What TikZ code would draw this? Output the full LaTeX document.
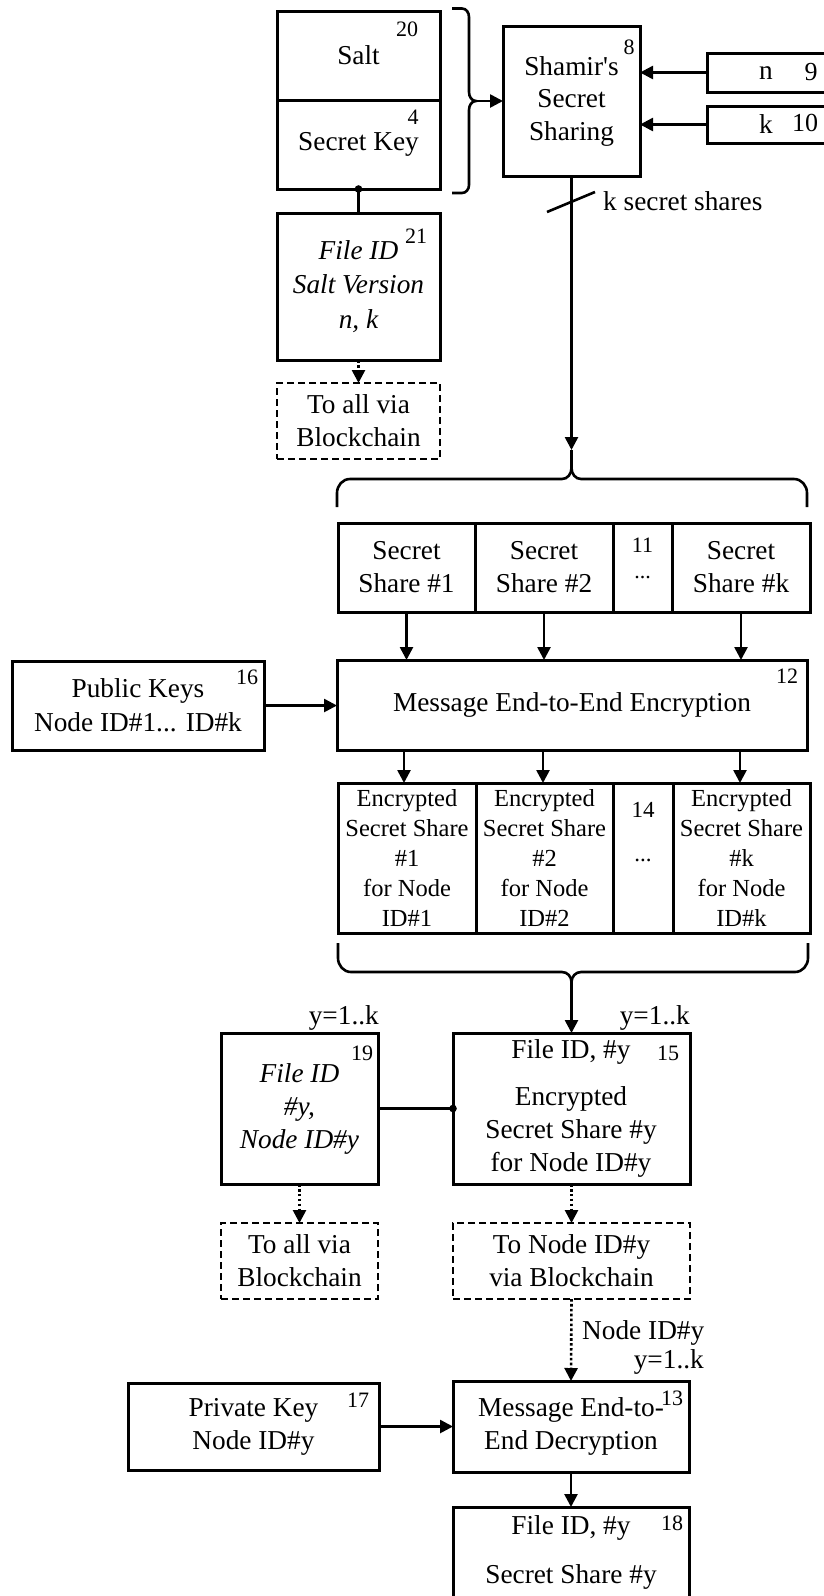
\documentclass[tikz,border=0pt]{standalone}
\usepackage{fontspec}
\setmainfont{Liberation Serif}[Ligatures=TeXOff]
\usetikzlibrary{arrows.meta,calc}
\newcommand\mainfs{\fontsize{27.3}{33}\selectfont}
\newcommand\itfs{\fontsize{27.3}{34.5}\selectfont\itshape}
\newcommand\shfs{\fontsize{27.3}{32.5}\selectfont}
\newcommand\encfs{\fontsize{24.5}{30}\selectfont}
\newcommand\numfs{\fontsize{22}{24}\selectfont}
\newcommand\nkfs{\fontsize{26}{28}\selectfont}
\begin{document}
\begin{tikzpicture}[x=1pt,y=-1pt,
  box/.style={draw, line width=3pt, inner sep=0pt, outer sep=0pt, align=center, font=\mainfs},
  dbox/.style={box, line width=2.7pt, dash pattern=on 7pt off 4pt},
  conn/.style={line width=2.6pt},
  arr/.style={conn, -{Triangle[length=13pt,width=13pt]}},
  dots/.style={arr, dash pattern=on 2.6pt off 2.3pt},
  num/.style={inner sep=0pt, font=\numfs},
  txt/.style={inner sep=0pt, align=center, font=\mainfs}]
\fill[white] (0,0) rectangle (823,1596);
\useasboundingbox (0,0) rectangle (823,1596);

% ---- top part
\node[box, minimum width=163pt, minimum height=89pt] (salt) at (358.5,55.5) {Salt};
\node[box, minimum width=163pt, minimum height=89pt] (skey) at (358.5,144.5) {Secret Key};
\node[num] (n20) at (407,29) {20};
\node[num] (n4) at (413,117) {4};
\node[box, minimum width=163pt, minimum height=147pt, font=\itfs] (fileid) at (358.5,286.5) {File ID\\Salt Version\\n, k};
\node[num] (n21) at (416,236) {21};
\node[dbox, minimum width=163pt, minimum height=76pt] (blk1) at (358.5,421) {To all via\\Blockchain};

\node[box, minimum width=137pt, minimum height=150pt, font=\shfs] (shamir) at (571.5,101) {Shamir's\\Secret\\Sharing};
\node[num] (n8) at (629,47) {8};
\node[box, minimum width=128pt, minimum height=39pt] (nbox) at (771,72.5) {};
\node[txt] (nlab) at (766,73) {n};
\node[txt, font=\nkfs] (n9) at (811,72) {9};
\node[box, minimum width=128pt, minimum height=37pt] (kbox) at (771,124.5) {};
\node[txt] (klab) at (766,124) {k};
\node[txt, font=\nkfs] (n10) at (805,123) {10};
\node[txt, anchor=west] (kss) at (603,201) {k secret shares};

% brace 1 (vertical)
\coordinate (btip1) at (476,101);
\draw[conn] (452,8.5) -- (462,8.5) to[out=0,in=90] (469,17) -- (469,92) to[out=-90,in=180] (btip1)
  to[out=180,in=90] (469,110) -- (469,185) to[out=-90,in=0] (462,193) -- (452,193);

% brace 2 (horizontal, opening down)
\coordinate (btip2) at (571.5,450);
\draw[conn] (337,507) -- (337,493) to[out=90,in=180] (350,479) -- (562,479) to[out=0,in=-90] (571.5,468) -- (btip2);
\draw[conn] (807,507) -- (807,493) to[out=90,in=0] (794,479) -- (581,479) to[out=180,in=-90] (571.5,468);

% ---- secret shares row
\node[box, minimum width=137pt, minimum height=89pt] (ss1) at (406.5,567.5) {Secret\\Share \#1};
\node[box, minimum width=138pt, minimum height=89pt] (ss2) at (544,567.5) {Secret\\Share \#2};
\node[box, minimum width=59pt, minimum height=89pt] (ssd) at (642.5,567.5) {};
\node[box, minimum width=138pt, minimum height=89pt] (ssk) at (741,567.5) {Secret\\Share \#k};
\node[num] (n11) at (642.5,545) {11};
\node[num, anchor=base] (d11) at (642.5,578) {...};

\node[box, minimum width=470pt, minimum height=90pt] (enc) at (572,705) {Message End-to-End Encryption};
\node[num] (n12) at (787,676) {12};
\node[box, minimum width=252pt, minimum height=89pt, font=\fontsize{27.3}{34}\selectfont] (pub) at (138,705.5) {Public Keys\\Node ID\#1... ID\#k};
\node[num] (n16) at (247,677) {16};

% ---- encrypted row
\node[box, minimum width=138pt, minimum height=150pt, font=\encfs] (es1) at (407,858) {Encrypted\\Secret Share\\\#1\\for Node\\ID\#1};
\node[box, minimum width=137pt, minimum height=150pt, font=\encfs] (es2) at (544.5,858) {Encrypted\\Secret Share\\\#2\\for Node\\ID\#2};
\node[box, minimum width=60pt, minimum height=150pt] (esd) at (643,858) {};
\node[box, minimum width=137pt, minimum height=150pt, font=\encfs] (esk) at (741.5,858) {Encrypted\\Secret Share\\\#k\\for Node\\ID\#k};
\node[num, font=\fontsize{23}{25}\selectfont] (n14) at (643,810) {14};
\node[num, anchor=base, font=\fontsize{23}{25}\selectfont] (d14) at (643,861) {...};

% brace 3 (horizontal, opening up)
\coordinate (btip3) at (571.5,982);
\draw[conn] (338,943) -- (338,958) to[out=-90,in=180] (351,972) -- (562,972) to[out=0,in=90] (btip3);
\draw[conn] (808,943) -- (808,958) to[out=-90,in=0] (795,972) -- (581,972) to[out=180,in=90] (btip3);

% ---- lower part
\node[box, minimum width=157pt, minimum height=151pt, font=\fontsize{27.3}{33}\selectfont\itshape] (b19) at (299.5,1108.5) {File ID\\\#y,\\Node ID\#y};
\node[num] (n19) at (362,1053) {19};
\node[txt, anchor=east] (y19) at (379,1018) {y=1..k};
\node[box, minimum width=237pt, minimum height=151pt] (b15) at (571.5,1108.5) {};
\node[txt] (f15) at (571,1052) {File ID, \#y};
\node[txt] (t15) at (571,1132) {Encrypted\\Secret Share \#y\\for Node ID\#y};
\node[num] (n15) at (668,1053) {15};
\node[txt, anchor=east] (y15) at (690,1018) {y=1..k};

\node[dbox, minimum width=157pt, minimum height=76pt] (blk2) at (299.5,1261) {To all via\\Blockchain};
\node[dbox, minimum width=237pt, minimum height=76pt] (blk3) at (571.5,1261) {To Node ID\#y\\via Blockchain};
\node[txt, anchor=west] (nid) at (582,1333) {Node ID\#y};
\node[txt, anchor=east] (y13) at (704,1362) {y=1..k};

\node[box, minimum width=236pt, minimum height=91pt] (b13) at (571,1426.5) {Message End-to-\\End Decryption};
\node[num] (n13) at (672,1398) {13};
\node[box, minimum width=251pt, minimum height=87pt] (b17) at (253.5,1426.5) {Private Key\\Node ID\#y};
\node[num] (n17) at (358,1400) {17};
\node[box, minimum width=236pt, minimum height=98pt] (b18) at (571,1556) {};
\node[txt] (f18) at (571,1528) {File ID, \#y};
\node[num] (n18) at (672,1523) {18};
\node[txt] (s18) at (571,1577) {Secret Share \#y};

% ---- connectors
\draw[conn] (skey.south) -- (fileid.north);
\fill (skey.south) circle (3.8pt);
\draw[dots] (fileid.south) -- (blk1.north);
\draw[arr] (btip1) -- (btip1 -| shamir.west);
\draw[arr] (nbox.west) -- (nbox.west -| shamir.east);
\draw[arr] (kbox.west) -- (kbox.west -| shamir.east);
\draw[arr] (shamir.south) -- (btip2);
\draw[conn] (547,212) -- (595,192);
\foreach \c in {ss1,ss2,ssk} \draw[arr] (\c.south) -- (\c.south |- enc.north);
\draw[arr] (pub.east) -- (pub.east -| enc.west);
\foreach \c/\dx in {es1/-3,es2/-1.5,esk/-1.5} \draw[arr] ($(\c.north |- enc.south)+(\dx,0)$) -- ($(\c.north)+(\dx,0)$);
\draw[arr] (btip3) -- (btip3 |- b15.north);
\draw[conn] (b19.east) -- (b15.west);
\fill (b15.west) circle (3.8pt);
\draw[dots] (b19.south) -- (blk2.north);
\draw[dots] (b15.south) -- (blk3.north);
\draw[dots] (blk3.south) -- (b13.north);
\draw[arr] (b17.east) -- (b17.east -| b13.west);
\draw[arr] (b13.south) -- (b18.north);
\end{tikzpicture}
\end{document}
